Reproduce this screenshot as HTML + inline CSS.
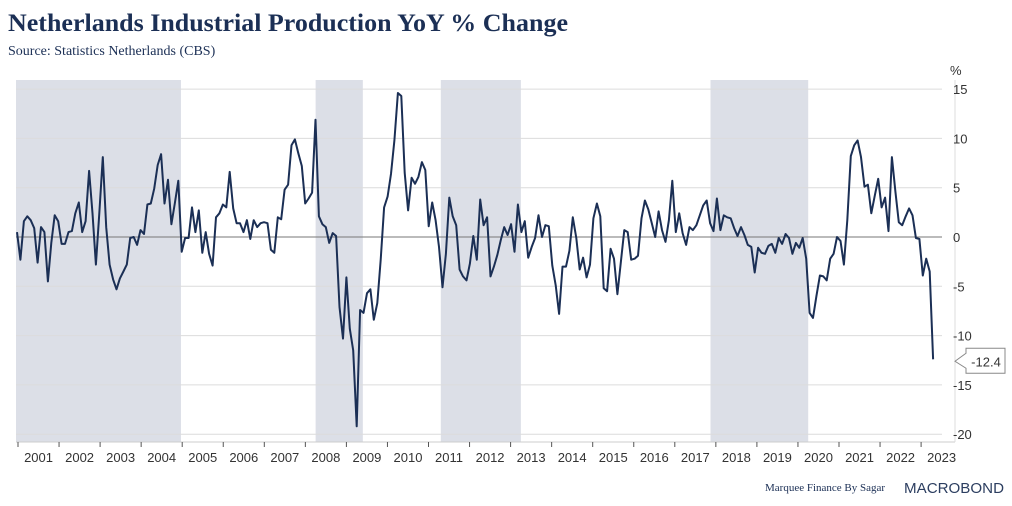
<!DOCTYPE html>
<html><head><meta charset="utf-8"><style>
body{margin:0;background:#fff;}
svg{display:block;font-family:"Liberation Sans",sans-serif;}
</style></head><body>
<svg id="chart" width="1012" height="506" viewBox="0 0 1012 506" xmlns="http://www.w3.org/2000/svg">
<text x="8" y="31" font-family="Liberation Serif, serif" font-weight="bold" font-size="25" fill="#1b2f55" textLength="560" lengthAdjust="spacingAndGlyphs">Netherlands Industrial Production YoY % Change</text>
<text x="8" y="55" font-family="Liberation Serif, serif" font-size="14" fill="#1b2f55">Source: Statistics Netherlands (CBS)</text>
<g id="shades"></g>
<g id="grid"></g>
<g id="xaxis"></g>
<g id="yaxis"></g>
<text x="950" y="75" font-size="13" fill="#333">%</text>
<path id="line" fill="none" stroke="#1b2f55" stroke-width="2" stroke-linejoin="round"/>
<g>
<path id="callout" fill="#fff" stroke="#888" stroke-width="1"/>
<text id="calloutText" x="986" font-size="13" fill="#333" text-anchor="middle"></text>
</g>
<text x="765" y="491" font-family="Liberation Serif, serif" font-size="11" fill="#1b2f55">Marquee Finance By Sagar</text>
<text x="904" y="493" font-size="15" fill="#2c3e60" textLength="100" lengthAdjust="spacingAndGlyphs">MACROBOND</text>
</svg>
<script>
const startYear = 2001;
const values = [0.5,-2.3,1.6,2.1,1.7,0.9,-2.6,1.0,0.5,-4.5,-0.6,2.2,1.6,-0.7,-0.7,0.5,0.6,2.4,3.5,0.5,1.6,6.7,2.4,-2.8,2.4,8.1,1.0,-2.8,-4.3,-5.3,-4.2,-3.5,-2.8,-0.1,0,-0.8,0.7,0.3,3.3,3.4,4.9,7.3,8.4,3.4,5.8,1.3,3.4,5.7,-1.5,-0.1,-0.1,3.0,0.5,2.7,-1.6,0.5,-1.7,-2.9,2.0,2.4,3.3,3.0,6.6,2.9,1.4,1.4,0.5,1.7,
-0.2,1.7,1.0,1.4,1.5,1.4,-1.3,-1.6,2.0,1.8,4.8,5.3,9.3,9.9,8.5,7.2,3.4,3.9,4.5,11.9,2.1,1.3,1.0,-0.6,0.4,0.1,-7.1,-10.3,-4.1,-9.3,-11.5,-19.2,-7.4,-7.7,-5.7,-5.3,-8.4,-6.7,-2.3,3.0,4.1,6.4,9.8,14.6,14.3,6.5,2.7,6.0,5.4,6.1,7.6,6.8,1.1,3.5,1.7,-1.0,-5.1,-1.7,4.0,2.1,1.2,-3.3,-4.0,-4.4,-2.7,0.1,-2.3,3.8,
1.2,2.0,-4.0,-3.0,-1.8,-0.3,1.0,0.2,1.3,-1.5,3.3,0.5,1.6,-2.1,-1.0,-0.1,2.2,0,1.2,1.1,-2.9,-4.9,-7.8,-3.0,-3.0,-1.4,2.0,-0.1,-3.3,-2.1,-4.1,-2.8,1.9,3.4,2.1,-5.2,-5.5,-1.2,-2.2,-5.8,-2.5,0.7,0.5,-2.3,-2.2,-1.9,1.9,3.7,2.8,1.4,0,2.6,0.7,-0.5,1.7,5.7,0.5,2.4,0.4,-0.8,1.0,0.7,1.2,2.2,3.2,3.7,1.4,
0.6,3.9,0.7,2.2,2.0,1.9,0.9,0.1,1.0,0.2,-0.8,-1.0,-3.6,-1.1,-1.6,-1.7,-0.9,-0.7,-1.6,-0.1,-0.7,0.3,-0.1,-1.7,-0.6,-1.1,-0.1,-2.2,-7.7,-8.2,-6.0,-3.9,-4.0,-4.4,-2.2,-1.7,0,-0.4,-2.8,1.7,8.2,9.3,9.8,8.1,5.1,5.3,2.4,4.2,5.9,3.0,4.0,0.6,8.1,4.6,1.5,1.2,2.1,2.9,2.2,-0.1,-0.2,-3.9,-2.2,-3.5,-12.4];
const shadeStarts = [2000.95, 2008.25, 2011.3, 2017.87];
const shadeEnds = [2004.97, 2009.4, 2013.25, 2020.25];
const yTicks = [15,10,5,0,-5,-10,-15,-20];
const yearLabels = [2001,2002,2003,2004,2005,2006,2007,2008,2009,2010,2011,2012,2013,2014,2015,2016,2017,2018,2019,2020,2021,2022,2023];

const NS="http://www.w3.org/2000/svg";
const plotL=16, plotR=942, plotT=80, plotB=442;
const xs = t => 18 + (t-2001)*41.05;
const ys = v => 237 - v*9.86;
function mk(tag, attrs, parent){const e=document.createElementNS(NS,tag);for(const k in attrs)e.setAttribute(k,attrs[k]);parent.appendChild(e);return e;}
const shades=document.getElementById('shades');
shadeStarts.forEach((s,i)=>{
  const r=mk('rect',{x:Math.max(plotL,xs(s)),y:plotT,width:xs(shadeEnds[i])-Math.max(plotL,xs(s)),height:plotB-plotT,fill:'#dcdfe7'},shades);
  
  
});
const grid=document.getElementById('grid'), yaxis=document.getElementById('yaxis');
yTicks.forEach(v=>{
  const l=mk('line',{x1:plotL,x2:plotR,y1:ys(v),y2:ys(v),stroke:v===0?'#777':'#dcdcdc','stroke-width':1},grid);
  
  
  const t=mk('text',{x:plotR+11,y:ys(v)+5,'font-size':13,fill:'#333'},yaxis);
  
  
  t.textContent=v;
});
const xaxis=document.getElementById('xaxis');
mk('line',{x1:plotL,x2:plotR+13,y1:plotB,y2:plotB,stroke:'#ccc'},xaxis);
mk('line',{x1:plotR+13,x2:plotR+13,y1:plotT,y2:plotB,stroke:'#ddd'},xaxis);
yearLabels.forEach(y=>{
  mk('line',{x1:xs(y),x2:xs(y),y1:plotB,y2:plotB+5,stroke:'#555'},xaxis);
  const t=mk('text',{x:xs(y+0.5),y:plotB+20,'font-size':13,fill:'#333','text-anchor':'middle'},xaxis);
  
  
  t.textContent=y;
});
let d='';
values.forEach((v,i)=>{d+=(i?'L':'M')+(xs(startYear+i/12*1.003)-1).toFixed(1)+','+ys(v).toFixed(1);});
document.getElementById('line').setAttribute('d',d);
const last=values[values.length-1], ly=ys(last)+2;
document.getElementById('callout').setAttribute('d',`M955,${ly} L966,${ly-8} L966,${ly-13} L1005,${ly-13} L1005,${ly+12} L966,${ly+12} L966,${ly+7} Z`);
const ct=document.getElementById('calloutText');ct.setAttribute('y',ly+5);ct.textContent=last.toFixed(1);
</script>
</body></html>
